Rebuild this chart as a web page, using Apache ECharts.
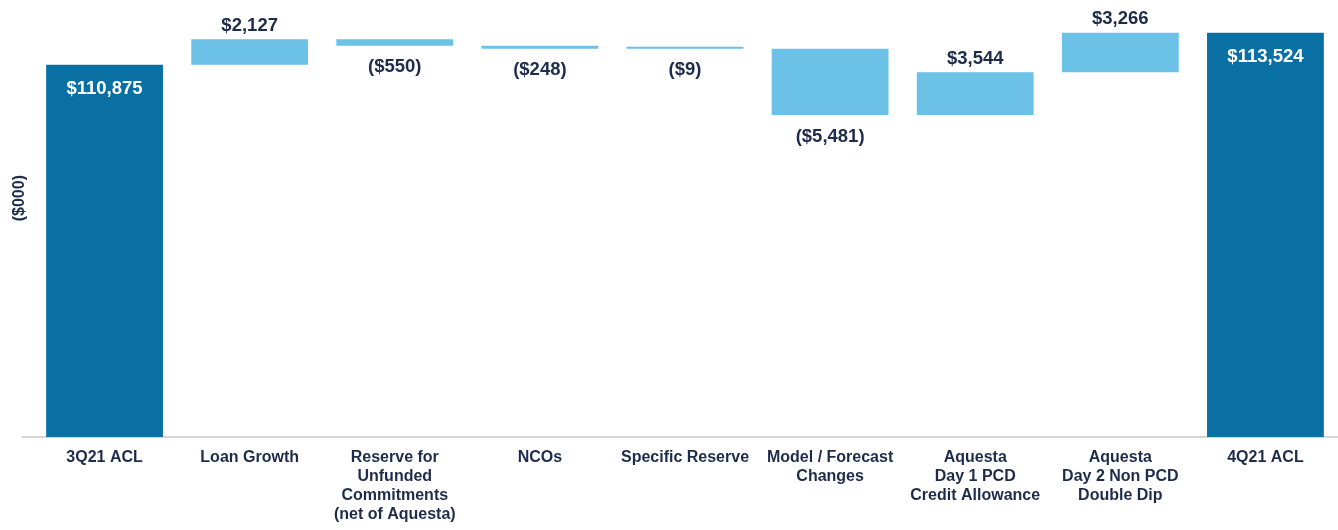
<!DOCTYPE html>
<html><head><meta charset="utf-8">
<script src="https://cdn.jsdelivr.net/npm/echarts@6/dist/echarts.min.js"></script>
<style>html,body{margin:0;padding:0;background:#fff}#c{width:1338px;height:530px}</style>
</head><body><div id="c"></div>
<script>
const categories = ['3Q21 ACL','Loan Growth','Reserve for\nUnfunded\nCommitments\n(net of Aquesta)','NCOs','Specific Reserve','Model / Forecast\nChanges','Aquesta\nDay 1 PCD\nCredit Allowance','Aquesta\nDay 2 Non PCD\nDouble Dip','4Q21 ACL'];
const startTotal = 110875;
const changes = [2127, -550, -248, -9, -5481, 3544, 3266];
const endTotal = 113524;
const yMin = 80000, yMax = 116000;

const DARK = '#0a70a3', LIGHT = '#6cc1e6', TEXT = '#1e2b4b';
function fmt(v){const s='$'+Math.abs(v).toLocaleString('en-US');return v<0?'('+s+')':s;}

const base = [], bars = [];
base.push(0);
bars.push({value:startTotal,itemStyle:{color:DARK},label:{show:true,position:'insideTop',distance:15,color:'#fff',formatter:fmt(startTotal)}});
let cum = startTotal;
changes.forEach(d=>{
  const next = cum + d;
  base.push(Math.min(cum,next));
  bars.push({value:Math.abs(d),itemStyle:{color:LIGHT},
    label:{show:true,position:d>=0?'top':'bottom',distance:d>=0?4:12,color:TEXT,formatter:fmt(d)}});
  cum = next;
});
base.push(0);
bars.push({value:endTotal,itemStyle:{color:DARK},label:{show:true,position:'insideTop',distance:15,color:'#fff',formatter:fmt(endTotal)}});

const chart = echarts.init(document.getElementById('c'));
chart.setOption({
  animation:false,
  grid:{left:32,right:0,top:3,bottom:93,containLabel:false},
  xAxis:{type:'category',data:categories,
    axisLine:{show:true,lineStyle:{color:'#d6d6d6',width:2}},
    axisTick:{show:false},
    axisLabel:{interval:0,color:TEXT,fontFamily:'Liberation Sans, Arial',fontWeight:'bold',fontSize:16,lineHeight:19,margin:11}},
  yAxis:{type:'value',min:yMin,max:yMax,show:false,splitLine:{show:false}},
  graphic:[
    {type:'text',left:12,top:175,rotation:Math.PI/2,style:{text:'($000)',fill:TEXT,font:'bold 16px "Liberation Sans", Arial'}},
    {type:'line',shape:{x1:22,y1:437,x2:33,y2:437},style:{stroke:'#d6d6d6',lineWidth:2}}
  ],
  series:[
    {type:'bar',stack:'w',data:base,itemStyle:{color:'transparent'},barCategoryGap:'19.5%',silent:true},
    {type:'bar',stack:'w',data:bars,barCategoryGap:'19.5%',barMinHeight:2,
      label:{fontFamily:'Liberation Sans, Arial',fontWeight:'bold',fontSize:18.5}}
  ]
});
</script></body></html>
